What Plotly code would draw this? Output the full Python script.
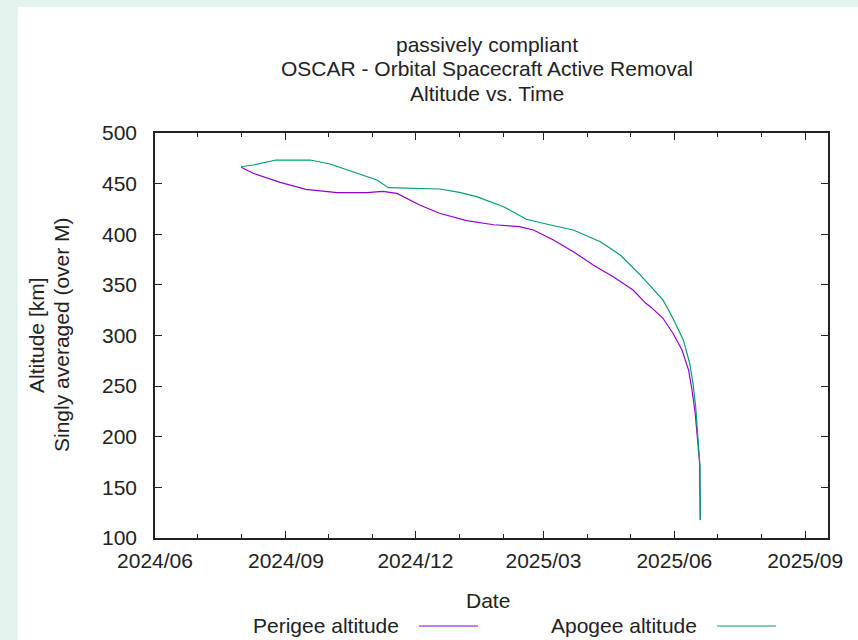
import plotly.graph_objects as go

# ---- data ----
perigee_dates = ["2024-07-31 12:00", "2024-08-09", "2024-08-28", "2024-09-15", "2024-10-07",
                 "2024-10-28", "2024-11-08", "2024-11-18", "2024-12-04", "2024-12-18",
                 "2025-01-06", "2025-01-25", "2025-02-12", "2025-02-22", "2025-03-08",
                 "2025-03-22", "2025-04-05", "2025-04-19", "2025-05-03", "2025-05-12",
                 "2025-05-16", "2025-05-24", "2025-05-31", "2025-06-06 10:00", "2025-06-11",
                 "2025-06-13 10:00", "2025-06-15 16:00", "2025-06-17 10:00", "2025-06-18 19:00",
                 "2025-06-19 06:00"]
perigee_alt = [466.1, 460.2, 451.3, 444.4, 441.1,
               441.1, 442.4, 440.4, 428.9, 420.7,
               413.4, 409.4, 407.5, 404.2, 394.3,
               382.8, 369.6, 358.1, 344.9, 331.8,
               327.5, 317.0, 302.2, 285.7, 265.9,
               246.2, 223.2, 196.8, 173.8,
               117.8]

apogee_dates = ["2024-07-31 12:00", "2024-08-09", "2024-08-25", "2024-09-18", "2024-10-02",
                "2024-10-18", "2024-11-04", "2024-11-12", "2024-11-27", "2024-12-18",
                "2025-01-01", "2025-01-13", "2025-02-01", "2025-02-12", "2025-02-17",
                "2025-03-06", "2025-03-22", "2025-04-10", "2025-04-24", "2025-05-08",
                "2025-05-24", "2025-05-31", "2025-06-07 07:00", "2025-06-11 19:00",
                "2025-06-14 02:00", "2025-06-16", "2025-06-17 15:00", "2025-06-19 00:00",
                "2025-06-19 06:00"]
apogee_alt = [466.7, 468.4, 473.3, 473.3, 469.4,
              461.8, 453.6, 446.0, 445.4, 444.7,
              441.4, 437.1, 427.2, 418.3, 414.8,
              409.1, 404.2, 392.6, 379.5, 359.8,
              335.1, 317.0, 295.6, 272.6,
              252.8, 229.7, 196.8, 170.4,
              117.8]

title_lines = ["passively compliant", "OSCAR - Orbital Spacecraft Active Removal", "Altitude vs. Time"]
series_names = ["Perigee altitude", "Apogee altitude"]
series_colors = ["#9400d3", "#009e73"]

# ---- layout geometry (pixels) ----
W, H = 858, 640
L, R, T, B = 155, 828, 133, 538
PW, PH = R - L, B - T


def px(x):
    return (x - L) / PW


def py(y):
    return (B - y) / PH


FONT = "Liberation Sans, Arial, sans-serif"
FS = 21
TXT = "#222222"

fig = go.Figure()
fig.add_trace(go.Scatter(x=perigee_dates, y=perigee_alt, mode="lines", name=series_names[0],
                         line=dict(color=series_colors[0], width=1.2), showlegend=False))
fig.add_trace(go.Scatter(x=apogee_dates, y=apogee_alt, mode="lines", name=series_names[1],
                         line=dict(color=series_colors[1], width=1.2), showlegend=False))

annotations = []
for i, t in enumerate(title_lines):
    annotations.append(dict(text=t, x=px(487), y=py(44 + 25 * i), xref="paper", yref="paper",
                            showarrow=False, xanchor="center", yanchor="middle",
                            font=dict(family=FONT, size=FS, color=TXT)))
annotations.append(dict(text="Altitude [km]", x=px(36), y=py(335), xref="paper", yref="paper",
                        showarrow=False, textangle=-90, xanchor="center", yanchor="middle",
                        font=dict(family=FONT, size=FS, color=TXT)))
annotations.append(dict(text="Singly averaged (over M)", x=px(61), y=py(335), xref="paper", yref="paper",
                        showarrow=False, textangle=-90, xanchor="center", yanchor="middle",
                        font=dict(family=FONT, size=FS, color=TXT)))
annotations.append(dict(text="Date", x=px(488), y=py(600), xref="paper", yref="paper",
                        showarrow=False, xanchor="center", yanchor="middle",
                        font=dict(family=FONT, size=FS, color=TXT)))

# manual legend (gnuplot style: text then sample line)
legend_items = [(401, 419, 478), (699, 717, 776)]
shapes = [dict(type="rect", xref="paper", yref="paper", x0=px(18), x1=px(W + 5), y0=py(H + 5), y1=py(7),
               fillcolor="white", line=dict(width=0), layer="below")]
for (text_right, l0, l1), name, col in zip(legend_items, series_names, series_colors):
    annotations.append(dict(text=name, x=px(text_right), y=py(625), xref="paper", yref="paper",
                            showarrow=False, xanchor="right", yanchor="middle",
                            font=dict(family=FONT, size=FS, color=TXT)))
    shapes.append(dict(type="line", xref="paper", yref="paper", x0=px(l0), x1=px(l1),
                       y0=py(626), y1=py(626), line=dict(color=col, width=1.2)))

fig.update_layout(
    width=W, height=H,
    margin=dict(l=L, r=W - R, t=T, b=H - B),
    paper_bgcolor="#e3f4ee", plot_bgcolor="white",
    annotations=annotations, shapes=shapes,
    font=dict(family=FONT, size=FS, color=TXT),
)
fig.update_xaxes(
    type="date", range=["2024-06-01", "2025-09-17"],
    tick0="2024-06-01", dtick="M3", tickformat="%Y/%m",
    ticks="inside", ticklen=7, tickcolor="#222", tickwidth=1,
    minor=dict(dtick="M1", ticks="inside", ticklen=4, tickcolor="#222", tickwidth=1),
    showline=True, linecolor="#222", linewidth=1.5, mirror="allticks",
    showgrid=False, zeroline=False, ticklabelstandoff=3,
    tickfont=dict(family=FONT, size=FS, color=TXT),
)
fig.update_yaxes(
    range=[100, 500], dtick=50, tick0=100,
    ticks="inside", ticklen=7, tickcolor="#222", tickwidth=1,
    showline=True, linecolor="#222", linewidth=1.5, mirror="allticks",
    showgrid=False, zeroline=False, ticklabelstandoff=12,
    tickfont=dict(family=FONT, size=FS, color=TXT),
)

fig.write_html("out.html")
